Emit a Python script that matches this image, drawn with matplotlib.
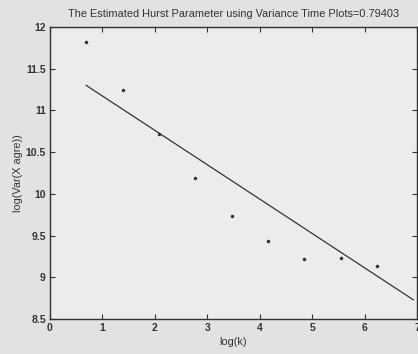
import numpy as np
import matplotlib
matplotlib.use("Agg")
import matplotlib.pyplot as plt

# values
log_k = [0.69, 1.39, 2.08, 2.77, 3.47, 4.16, 4.85, 5.55, 6.24]
log_var = [11.82, 11.25, 10.72, 10.19, 9.73, 9.43, 9.22, 9.23, 9.13]

# fitted line (slope = 2H - 2, H = 0.79403)
fit_x = [0.69, 6.93]
fit_slope = -0.41194
fit_intercept = 11.585
hurst = 0.79403

plt.rcParams['font.family'] = ['Liberation Sans', 'DejaVu Sans']
ink = '#333333'

fig = plt.figure(figsize=(4.18, 3.54), dpi=100, facecolor='#e2e2e2')
ax = fig.add_axes([0.1196, 0.0989, 0.878, 0.8248], facecolor='#ececec')

ax.plot(log_k, log_var, linestyle='none', marker='.', markersize=3, color=ink)
fx = np.array(fit_x)
ax.plot(fx, fit_intercept + fit_slope * fx, color=ink, linewidth=0.9)

ax.set_xlim(0, 7)
ax.set_ylim(8.5, 12)
ax.set_xticks(range(0, 8))
ax.set_yticks([8.5, 9, 9.5, 10, 10.5, 11, 11.5, 12])
ax.set_yticklabels(['8.5', '9', '9.5', '10', '10.5', '11', '11.5', '12'])
ax.tick_params(direction='in', top=True, right=True, labelsize=7.5, colors=ink,
               length=3.5, width=0.8, pad=3)
for lab in ax.get_xticklabels() + ax.get_yticklabels():
    lab.set_fontweight('bold')
for s in ax.spines.values():
    s.set_color(ink)
    s.set_linewidth(1.0)

ax.set_title('The Estimated Hurst Parameter using Variance Time Plots=%.5f' % hurst,
             fontsize=7.9, color=ink, pad=7)
ax.set_xlabel('log(k)', fontsize=7.8, color=ink, labelpad=3)
ax.set_ylabel('log(Var(X agre))', fontsize=7.8, color=ink, labelpad=2)

fig.savefig('out.png', dpi=100, facecolor=fig.get_facecolor())
